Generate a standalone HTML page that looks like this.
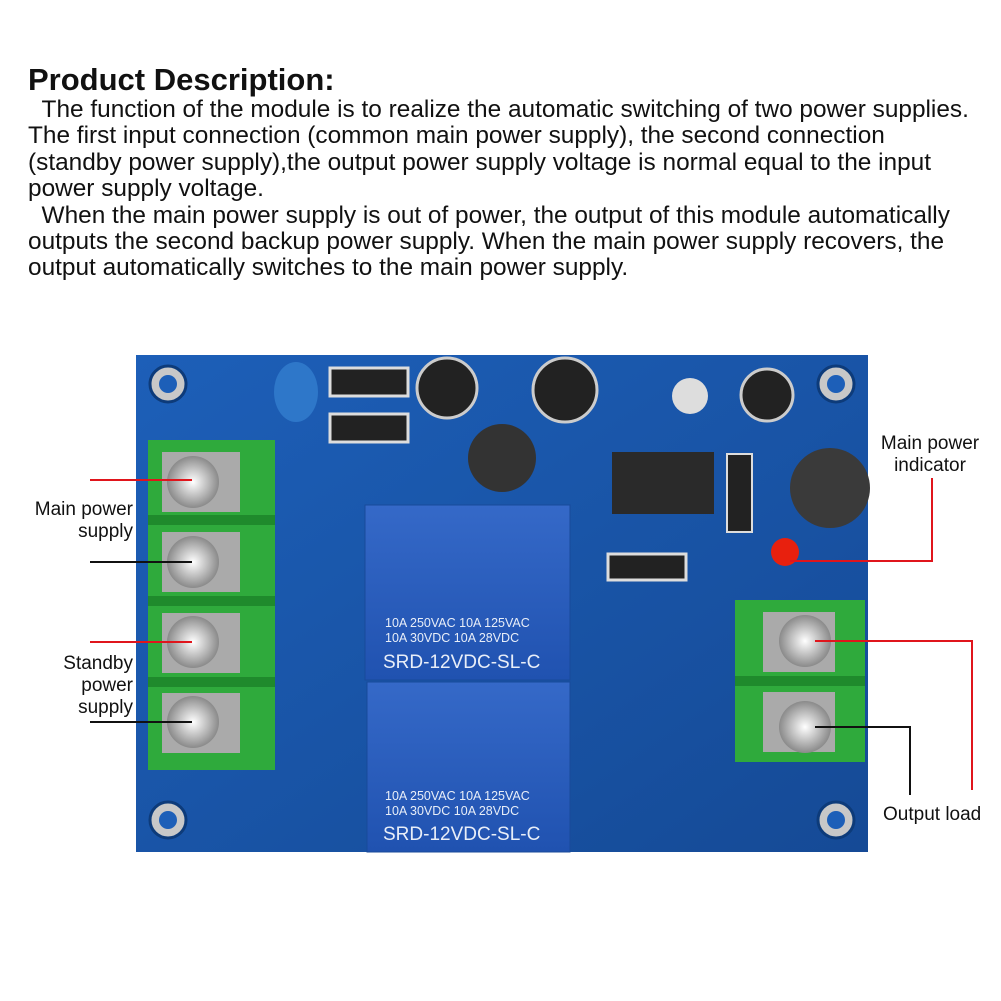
<!DOCTYPE html>
<html><head><meta charset="utf-8"><style>
body{margin:0;width:1001px;height:1001px;background:#fff;position:relative;overflow:hidden;font-family:"Liberation Sans",Arial,sans-serif;}
.t{position:absolute;left:28px;top:62px;font-size:31px;font-weight:bold;color:#111;}
.p{position:absolute;left:28px;top:97px;font-size:24.4px;line-height:26.4px;color:#111;width:975px;white-space:nowrap;}
.lbl{position:absolute;font-size:19px;line-height:22px;color:#111;}
</style></head><body>
<div class="t">Product Description:</div>
<div class="p">&nbsp;&nbsp;The function of the module is to realize the automatic switching of two power supplies.<br>The first input connection (common main power supply), the second connection<br>(standby power supply),the output power supply voltage is normal equal to the input<br>power supply voltage.<br>&nbsp;&nbsp;When the main power supply is out of power, the output of this module automatically<br>outputs the second backup power supply. When the main power supply recovers, the<br>output automatically switches to the main power supply.</div>

<svg width="1001" height="1001" style="position:absolute;left:0;top:0">
<defs>
<linearGradient id="b" x1="0" y1="0" x2="1" y2="1"><stop offset="0" stop-color="#1d5fb8"/><stop offset="1" stop-color="#154a96"/></linearGradient>
<linearGradient id="r" x1="0" y1="0" x2="0" y2="1"><stop offset="0" stop-color="#3569c8"/><stop offset="1" stop-color="#2052b0"/></linearGradient>
<radialGradient id="s"><stop offset="0" stop-color="#fff"/><stop offset="1" stop-color="#8a8a8a"/></radialGradient>
</defs>
<rect x="136" y="355" width="732" height="497" fill="url(#b)"/>
<g fill="#c8c8c8" stroke="#0d3b7a" stroke-width="3">
<circle cx="168" cy="384" r="18"/><circle cx="836" cy="384" r="18"/><circle cx="168" cy="820" r="18"/><circle cx="836" cy="820" r="18"/></g>
<g fill="#1d5fb8"><circle cx="168" cy="384" r="9"/><circle cx="836" cy="384" r="9"/><circle cx="168" cy="820" r="9"/><circle cx="836" cy="820" r="9"/></g>
<ellipse cx="296" cy="392" rx="22" ry="30" fill="#2e77c9"/>
<rect x="330" y="368" width="78" height="28" fill="#222" stroke="#ddd" stroke-width="3"/>
<rect x="330" y="414" width="78" height="28" fill="#222" stroke="#ddd" stroke-width="3"/>
<circle cx="447" cy="388" r="30" fill="#222" stroke="#ccc" stroke-width="3"/>
<circle cx="565" cy="390" r="32" fill="#222" stroke="#ccc" stroke-width="3"/>
<circle cx="690" cy="396" r="18" fill="#ddd"/>
<circle cx="767" cy="395" r="26" fill="#222" stroke="#ccc" stroke-width="3"/>
<circle cx="502" cy="458" r="34" fill="#333"/>
<circle cx="830" cy="488" r="40" fill="#3a3a3a"/>
<rect x="612" y="452" width="102" height="62" fill="#2a2a2a"/>
<rect x="727" y="454" width="25" height="78" fill="#222" stroke="#ddd" stroke-width="2"/>
<rect x="608" y="554" width="78" height="26" fill="#222" stroke="#ddd" stroke-width="3"/>
<circle cx="785" cy="552" r="14" fill="#e8200e"/>
<rect x="365" y="505" width="205" height="175" fill="url(#r)" stroke="#184a9a"/>
<rect x="367" y="682" width="203" height="170" fill="url(#r)" stroke="#184a9a"/>
<g fill="#e8eef8" font-size="12.5" font-family="Liberation Sans" xml:space="preserve">
<text x="385" y="627">10A 250VAC  10A 125VAC</text><text x="385" y="642">10A  30VDC  10A  28VDC</text>
<text x="385" y="800">10A 250VAC  10A 125VAC</text><text x="385" y="815">10A  30VDC  10A  28VDC</text></g>
<g fill="#e8eef8" font-size="19" font-family="Liberation Sans">
<text x="383" y="668">SRD-12VDC-SL-C</text><text x="383" y="840">SRD-12VDC-SL-C</text></g>
<rect x="148" y="440" width="127" height="330" fill="#2faa3c"/>
<g fill="#1f8a2c"><rect x="148" y="515" width="127" height="10"/><rect x="148" y="596" width="127" height="10"/><rect x="148" y="677" width="127" height="10"/></g>
<g fill="#aaa"><rect x="162" y="452" width="78" height="60"/><rect x="162" y="532" width="78" height="60"/><rect x="162" y="613" width="78" height="60"/><rect x="162" y="693" width="78" height="60"/></g>
<g fill="url(#s)"><circle cx="193" cy="482" r="26"/><circle cx="193" cy="562" r="26"/><circle cx="193" cy="642" r="26"/><circle cx="193" cy="722" r="26"/></g>
<rect x="735" y="600" width="130" height="162" fill="#2faa3c"/>
<rect x="735" y="676" width="130" height="10" fill="#1f8a2c"/>
<g fill="#aaa"><rect x="763" y="612" width="72" height="60"/><rect x="763" y="692" width="72" height="60"/></g>
<g fill="url(#s)"><circle cx="805" cy="641" r="26"/><circle cx="805" cy="727" r="26"/></g>
<g stroke-width="2" fill="none">
<line x1="90" y1="480" x2="192" y2="480" stroke="#e0151c"/>
<line x1="90" y1="562" x2="192" y2="562" stroke="#111"/>
<line x1="90" y1="642" x2="192" y2="642" stroke="#e0151c"/>
<line x1="90" y1="722" x2="192" y2="722" stroke="#111"/>
<polyline points="932,478 932,561 790,561" stroke="#e0151c"/>
<polyline points="815,641 972,641 972,790" stroke="#e0151c"/>
<polyline points="815,727 910,727 910,795" stroke="#111"/>
</g>
</svg>
<div class="lbl" style="right:868px;top:499px;text-align:right">Main power<br>supply</div>
<div class="lbl" style="right:868px;top:653px;text-align:right">Standby<br>power<br>supply</div>
<div class="lbl" style="left:870px;top:433px;text-align:center;width:120px">Main power<br>indicator</div>
<div class="lbl" style="left:883px;top:804px">Output load</div>
</body></html>
